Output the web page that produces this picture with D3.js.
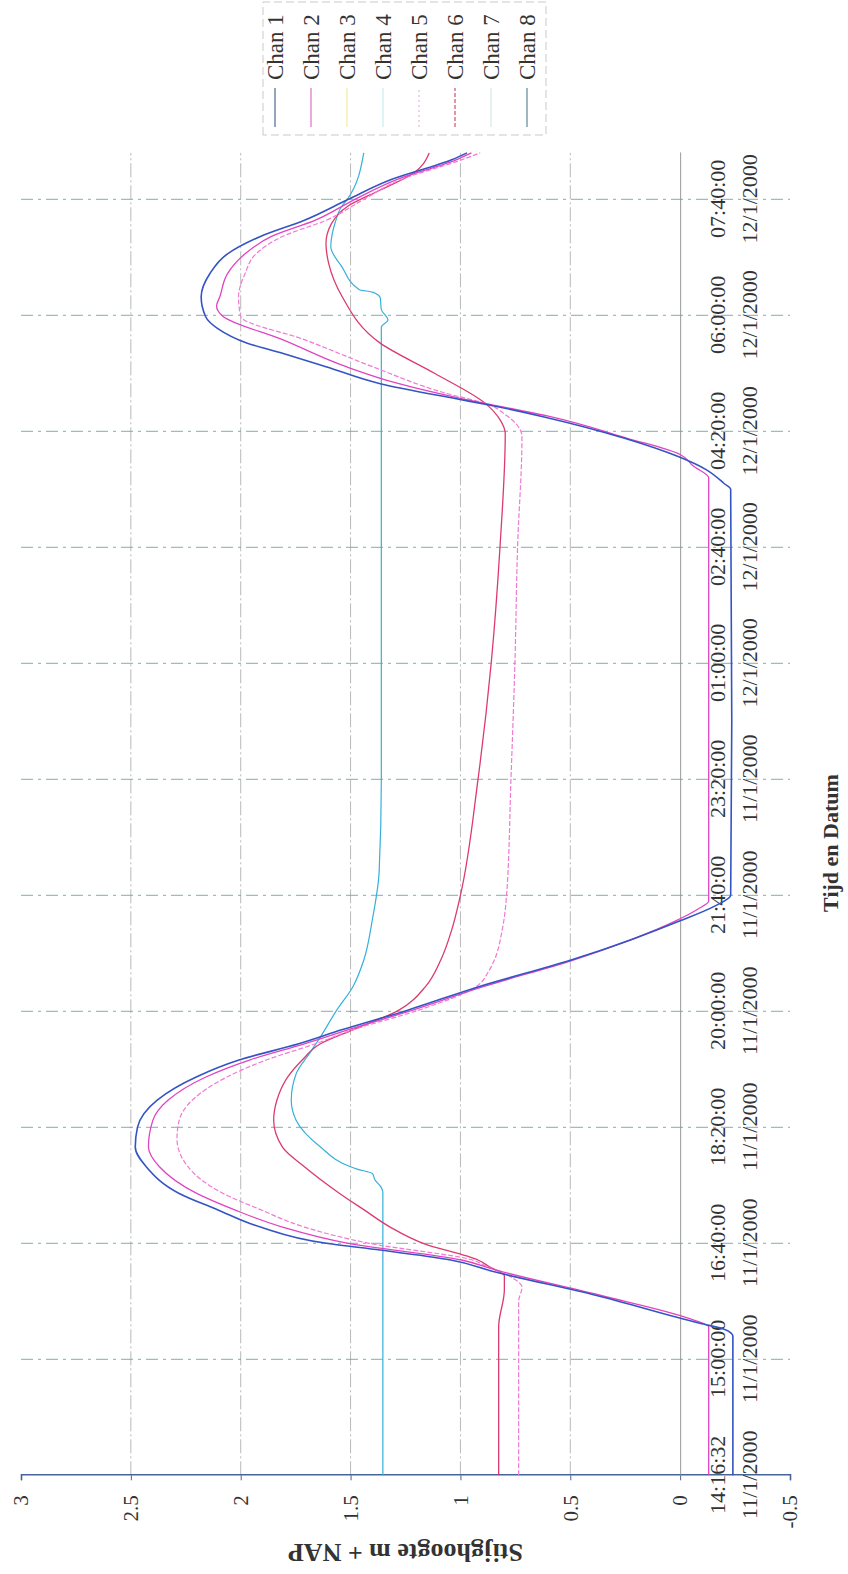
<!DOCTYPE html>
<html><head><meta charset="utf-8">
<script src="https://cdn.jsdelivr.net/npm/d3@7"></script>
<style>html,body{margin:0;padding:0;background:#fff;} svg{display:block;}</style>
</head><body>
<script>
// ---- data (x in tick units: one unit = one labelled category step) ----
const tickTimes = ["14:16:32","15:00:00","16:40:00","18:20:00","20:00:00","21:40:00","23:20:00","01:00:00","02:40:00","04:20:00","06:00:00","07:40:00"];
const tickDates = ["11/1/2000","11/1/2000","11/1/2000","11/1/2000","11/1/2000","11/1/2000","11/1/2000","12/1/2000","12/1/2000","12/1/2000","12/1/2000","12/1/2000"];
const valueTicks = [-0.5,0,0.5,1,1.5,2,2.5,3];
const valueLabels = ["-0.5","0","0.5","1","1.5","2","2.5","3"];
const channelNames = ["Chan 1","Chan 2","Chan 3","Chan 4","Chan 5","Chan 6","Chan 7","Chan 8"];

const chan1 = [[0,-0.24],[1.2,-0.24],[1.26,-0.2],[1.31,-0.09],[1.55,0.38],[1.755,0.846],[1.856,1.044],[1.942,1.365],[2.0,1.61],[2.14,1.91],[2.29,2.106],[2.43,2.28],[2.66,2.43],[2.83,2.48],[3.0,2.47],[3.235,2.38],[3.436,2.2],[3.58,2.008],[3.72,1.736],[3.84,1.54],[4.01,1.24],[4.21,0.92],[4.44,0.5],[4.62,0.22],[4.78,0.0],[4.9,-0.15],[5.0,-0.23],[6.5,-0.235],[8.5,-0.23],[8.55,-0.2],[8.67,-0.118],[8.78,0.006],[8.94,0.253],[9.126,0.624],[9.227,0.87],[9.28,1.019],[9.41,1.365],[9.557,1.612],[9.672,1.81],[9.76,1.97],[9.888,2.106],[9.99,2.16],[10.16,2.18],[10.36,2.14],[10.53,2.06],[10.68,1.91],[10.82,1.71],[11.0,1.51],[11.17,1.315],[11.34,1.04],[11.4,0.97]];
const chan2 = [[0,-0.13],[1.28,-0.13],[1.35,-0.044],[1.55,0.36],[1.77,0.84],[1.856,0.995],[2.0,1.51],[2.14,1.81],[2.29,2.03],[2.43,2.2],[2.66,2.37],[2.83,2.42],[3.06,2.4],[3.235,2.33],[3.436,2.156],[3.58,1.96],[3.72,1.71],[3.84,1.513],[4.01,1.217],[4.21,0.9],[4.44,0.49],[4.62,0.22],[4.78,0.02],[4.88,-0.08],[4.95,-0.13],[8.6,-0.13],[8.7,-0.06],[8.8,0.0],[8.94,0.24],[9.13,0.6],[9.23,0.86],[9.28,0.99],[9.41,1.28],[9.557,1.52],[9.79,1.81],[9.99,2.08],[10.08,2.11],[10.16,2.095],[10.36,2.06],[10.53,1.98],[10.68,1.86],[10.82,1.66],[11.0,1.48],[11.17,1.29],[11.34,1.02],[11.4,0.95]];
const chan5 = [[0,0.735],[1.5,0.735],[1.62,0.72],[1.72,0.78],[1.8,0.88],[1.856,0.945],[2.0,1.415],[2.14,1.71],[2.29,1.91],[2.43,2.08],[2.66,2.24],[2.9,2.29],[3.06,2.28],[3.235,2.22],[3.436,2.06],[3.58,1.884],[3.72,1.66],[3.84,1.49],[4.01,1.19],[4.21,0.93],[4.35,0.87],[4.44,0.846],[4.7,0.81],[5.0,0.79],[6.0,0.77],[7.0,0.752],[8.0,0.74],[8.95,0.72],[9.05,0.74],[9.15,0.8],[9.23,0.87],[9.33,1.07],[9.557,1.4],[9.79,1.71],[9.99,2.0],[10.16,2.01],[10.36,1.98],[10.53,1.93],[10.68,1.81],[10.82,1.61],[11.0,1.44],[11.17,1.27],[11.34,0.995],[11.4,0.91]];
const chan6 = [[0,0.826],[1.28,0.826],[1.6,0.8],[1.72,0.8],[1.8,0.87],[1.856,0.92],[2.0,1.17],[2.14,1.32],[2.29,1.44],[2.43,1.55],[2.66,1.71],[2.83,1.81],[3.06,1.85],[3.235,1.835],[3.436,1.785],[3.58,1.72],[3.72,1.637],[3.84,1.49],[4.01,1.28],[4.21,1.16],[4.44,1.09],[4.7,1.04],[5.0,1.0],[6.0,0.92],[7.0,0.86],[8.0,0.82],[8.98,0.796],[9.1,0.82],[9.23,0.88],[9.5,1.118],[9.76,1.365],[10.16,1.538],[10.45,1.6],[10.62,1.612],[10.79,1.587],[10.94,1.513],[11.08,1.365],[11.22,1.217],[11.4,1.142]];
const chan8 = [[0,1.353],[2.44,1.353],[2.48,1.36],[2.55,1.39],[2.6,1.4],[2.64,1.47],[2.66,1.5],[2.83,1.637],[3.06,1.748],[3.235,1.77],[3.46,1.748],[3.64,1.686],[3.78,1.637],[4.01,1.563],[4.21,1.49],[4.44,1.44],[4.8,1.4],[5.2,1.37],[6.0,1.36],[8.0,1.36],[9.9,1.36],[9.96,1.33],[10.05,1.36],[10.15,1.365],[10.2,1.4],[10.22,1.46],[10.42,1.54],[10.59,1.59],[10.8,1.57],[10.94,1.54],[11.0,1.515],[11.4,1.44]];
const seriesData = [chan1, chan2, null, null, chan5, chan6, null, chan8];

const seriesColors = ["#3454c4","#e044c2","#f3ee9c","#a8e6f0","#f07ad4","#dc3a6e","#c4e2e2","#36b0da"];
const seriesWidths = [1.6,1.3,1.2,1.2,1.2,1.3,1.2,1.2];
const seriesDash = [null,null,null,null,"5,2",null,null,null];
const legendColors = ["#4a6a8a","#e070c8","#f3ee9c","#c8eef2","#e8b4d8","#d0506e","#d4eaea","#5a8a96"];
const legendDash = [null,null,null,null,"2,3","4,2",null,null];

// ---- chart drawn in landscape frame, then rotated onto the portrait page ----
const W = 1574, H = 848;
const svg = d3.select("body").append("svg").attr("width", 848).attr("height", 1574);
const g = svg.append("g").attr("transform", `translate(0,${W}) rotate(-90)`);

const x = d3.scaleLinear().domain([0, 11.4]).range([98.7, 98.7 + 11.4 * 116]);
const y = d3.scaleLinear().domain([-0.5, 3]).range([790, 21]);
const serif = "'Liberation Serif','Times New Roman',serif";

// value gridlines
g.append("g").selectAll("line").data(valueTicks.filter(v => v > 0 && v < 3)).join("line")
  .attr("x1", x(0)).attr("x2", x(11.4)).attr("y1", d => y(d)).attr("y2", d => y(d))
  .attr("stroke", "#9a9a9a").attr("stroke-width", 0.7).attr("stroke-dasharray", "14,3,2,3");
// category gridlines
g.append("g").selectAll("line").data(d3.range(1, tickTimes.length)).join("line")
  .attr("x1", d => x(d)).attr("x2", d => x(d)).attr("y1", y(3)).attr("y2", y(-0.5))
  .attr("stroke", "#6fa6a6").attr("stroke-width", 0.9).attr("stroke-dasharray", "12,5,3,5");

// value axis
const yAxis = g.append("g").attr("transform", `translate(${x(0)},0)`)
  .call(d3.axisLeft(y).tickValues(valueTicks).tickSize(5).tickPadding(15)
    .tickFormat((d, i) => valueLabels[i]));
yAxis.select(".domain").attr("stroke", "#46649a").attr("stroke-width", 1.6);
yAxis.selectAll(".tick line").attr("stroke", "#46649a");
yAxis.selectAll("text").attr("font-family", serif).attr("font-size", 21).attr("fill", "#333");

// category axis (crosses at 0)
const xAxis = g.append("g").attr("transform", `translate(0,${y(0)})`)
  .call(d3.axisBottom(x).tickValues(d3.range(tickTimes.length)).tickSize(0).tickFormat(() => ""));
xAxis.select(".domain").attr("stroke", "#8c8c8c").attr("stroke-width", 0.9);
xAxis.selectAll(".tick text").each(function(d) {
  const t = d3.select(this).attr("y", null).attr("dy", null)
    .attr("font-family", serif).attr("font-size", 22).attr("fill", "#333");
  t.append("tspan").attr("x", 0).attr("y", 45).text(tickTimes[d]);
  t.append("tspan").attr("x", 0).attr("y", 77).text(tickDates[d]);
});

// series
const line = d3.line().x(d => x(d[0])).y(d => y(d[1])).curve(d3.curveMonotoneX);
const order = [7, 5, 4, 1, 0];
g.append("g").selectAll("path").data(order).join("path")
  .attr("d", i => line(seriesData[i]))
  .attr("fill", "none")
  .attr("stroke", i => seriesColors[i])
  .attr("stroke-width", i => seriesWidths[i])
  .attr("stroke-dasharray", i => seriesDash[i])
  .attr("stroke-linejoin", "round");

// legend
const lg = g.append("g");
lg.append("rect").attr("x", 1439).attr("y", 263).attr("width", 133).attr("height", 283)
  .attr("fill", "#fff").attr("stroke", "#bbb").attr("stroke-width", 0.8).attr("stroke-dasharray", "8,4");
const items = lg.selectAll("g").data(channelNames).join("g")
  .attr("transform", (d, i) => `translate(0,${275 + i * 36})`);
items.append("line").attr("x1", 1447).attr("x2", 1486).attr("y1", 0).attr("y2", 0)
  .attr("stroke", (d, i) => legendColors[i]).attr("stroke-width", 1.2)
  .attr("stroke-dasharray", (d, i) => legendDash[i]);
items.append("text").attr("x", 1494).attr("y", 0).attr("dy", "0.35em")
  .attr("font-family", serif).attr("font-size", 23).attr("fill", "#333").text(d => d);

// axis titles
g.append("text").attr("transform", `translate(21,${(y(3) + y(-0.5)) / 2}) rotate(-90)`)
  .attr("text-anchor", "middle").attr("dy", "0.35em")
  .attr("font-family", serif).attr("font-weight", "bold").attr("font-size", 26).attr("fill", "#333")
  .text("Stijghoogte m + NAP");
g.append("text").attr("x", 731).attr("y", 830).attr("dy", "0.35em")
  .attr("text-anchor", "middle")
  .attr("font-family", serif).attr("font-weight", "bold").attr("font-size", 22).attr("fill", "#333")
  .text("Tijd en Datum");
</script>
</body></html>
